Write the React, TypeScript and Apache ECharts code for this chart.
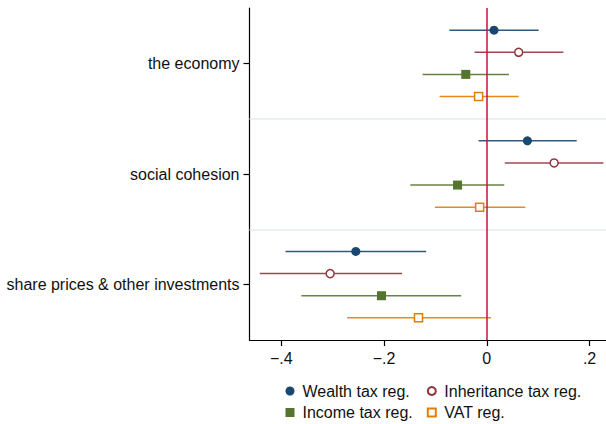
import React, { useEffect, useRef } from "react";
import * as echarts from "echarts";

// Groups, top to bottom
const categories = ["the economy", "social cohesion", "share prices & other investments"];
const seriesNames = ["Wealth tax reg.", "Inheritance tax reg.", "Income tax reg.", "VAT reg."];
const xTicks = [-0.4, -0.2, 0, 0.2];

// Point estimates and confidence bounds, in the order of `categories`
const wealthEst = [0.014, 0.079, -0.255];
const wealthLo = [-0.073, -0.016, -0.392];
const wealthHi = [0.101, 0.175, -0.118];

const inheritEst = [0.062, 0.131, -0.305];
const inheritLo = [-0.024, 0.035, -0.442];
const inheritHi = [0.149, 0.227, -0.165];

const incomeEst = [-0.041, -0.057, -0.205];
const incomeLo = [-0.125, -0.149, -0.361];
const incomeHi = [0.043, 0.034, -0.05];

const vatEst = [-0.016, -0.014, -0.133];
const vatLo = [-0.092, -0.101, -0.272];
const vatHi = [0.062, 0.075, 0.008];

const FONT = "'Liberation Sans', Arial, Helvetica, sans-serif";
const colors = ["#1a476f", "#90353b", "#55752f", "#e37e00"];
const offsets = [0.3, 0.1, -0.1, -0.3];
const nGroups = categories.length;

const groupY = (i: number) => nGroups - 0.5 - i;

export default function App() {
  const ref = useRef<HTMLDivElement>(null);
  useEffect(() => {
    if (!ref.current) return;
    const chart = echarts.init(ref.current, null, { renderer: "svg" });
    const est = [wealthEst, inheritEst, incomeEst, vatEst];
    const lo = [wealthLo, inheritLo, incomeLo, vatLo];
    const hi = [wealthHi, inheritHi, incomeHi, vatHi];
    const symbols = ["circle", "circle", "rect", "rect"];
    const legendIcons = ["circle", "circle", "path://M0 0H10V10H0Z", "path://M0 0H10V10H0Z"];
    const hollow = [false, true, false, true];
    const sizes = [9, 8, 9, 8];

    const series: any[] = [];
    for (let s = 0; s < 4; s++) {
      const ciData = categories.map((_, i) => [lo[s][i], hi[s][i], groupY(i) + offsets[s]]);
      const ci: any = {
        type: "custom",
        name: "ci" + s,
        z: 2,
        encode: { x: [0, 1], y: 2 },
        data: ciData,
        renderItem: (params: any, api: any) => {
          const p1 = api.coord([api.value(0), api.value(2)]);
          const p2 = api.coord([api.value(1), api.value(2)]);
          return {
            type: "line",
            shape: { x1: p1[0], y1: p1[1], x2: p2[0], y2: p2[1] },
            style: { stroke: colors[s], lineWidth: 1.5, opacity: 0.9 },
          };
        },
      };
      if (s === 0) {
        ci.markLine = {
          silent: true,
          symbol: ["none", "none"],
          label: { show: false },
          lineStyle: { color: "#e6ebef", width: 1.5, type: "solid" },
          z: 1,
          data: [{ yAxis: 1 }, { yAxis: 2 }],
        };
      }
      if (s === 3) {
        ci.markLine = {
          silent: true,
          symbol: ["none", "none"],
          label: { show: false },
          lineStyle: { color: "#c0143c", width: 1.5, type: "solid" },
          data: [{ xAxis: 0 }],
        };
      }
      series.push(ci);
      series.push({
        type: "scatter",
        name: seriesNames[s],
        z: 4,
        symbol: symbols[s],
        symbolSize: sizes[s],
        itemStyle: hollow[s]
          ? { color: "#ffffff", borderColor: colors[s], borderWidth: 1.5, opacity: 1 }
          : { color: colors[s], opacity: 1 },
        data: categories.map((_, i) => [est[s][i], groupY(i) + offsets[s]]),
      });
    }

    const legendPos = [
      { left: 285.5, top: 383 },
      { left: 426.8, top: 383 },
      { left: 285.5, top: 404.5 },
      { left: 426.8, top: 404.5 },
    ];
    const legend = seriesNames.map((n, s) => ({
      data: [{ name: n, icon: legendIcons[s] }],
      left: legendPos[s].left,
      top: legendPos[s].top,
      padding: 0,
      itemWidth: 15,
      itemHeight: sizes[s],
      itemGap: 5,
      symbolKeepAspect: true,
      selectedMode: false,
      textStyle: { fontFamily: FONT, fontSize: 16, color: "#111" },
    }));

    chart.setOption({
      animation: false,
      backgroundColor: "#ffffff",
      grid: { left: 249.5, right: 0, top: 8, bottom: 84, containLabel: false },
      legend,
      xAxis: {
        type: "value",
        min: -0.462,
        max: 0.232,
        splitLine: { show: false },
        axisLine: { show: true, onZero: false, lineStyle: { color: "#000", width: 1.2 } },
        axisTick: { show: true, length: 6, customValues: xTicks, lineStyle: { color: "#000", width: 1.2 } },
        axisLabel: {
          customValues: xTicks,
          margin: 10,
          fontFamily: FONT,
          fontSize: 16,
          color: "#111",
          formatter: (v: number) => {
            if (Math.abs(v) < 1e-9) return "0";
            const s = String(Math.abs(Math.round(v * 100) / 100)).replace(/^0/, "");
            return (v < 0 ? "\u2212" : "") + s;
          },
        },
      },
      yAxis: {
        type: "value",
        min: 0,
        max: nGroups,
        splitLine: { show: false },
        axisLine: { show: true, onZero: false, lineStyle: { color: "#000", width: 1.2 } },
        axisTick: {
          show: true,
          length: 6,
          customValues: categories.map((_, i) => groupY(i)),
          lineStyle: { color: "#000", width: 1.2 },
        },
        axisLabel: {
          customValues: categories.map((_, i) => groupY(i)),
          margin: 10,
          fontFamily: FONT,
          fontSize: 16,
          color: "#111",
          formatter: (v: number) => categories[Math.round(nGroups - 0.5 - v)] ?? "",
        },
      },
      series,
    });
    return () => chart.dispose();
  }, []);
  return (
    <div
      ref={ref}
      style={{ position: "absolute", left: 0, top: 0, width: 606, height: 424, background: "#fff" }}
    />
  );
}
